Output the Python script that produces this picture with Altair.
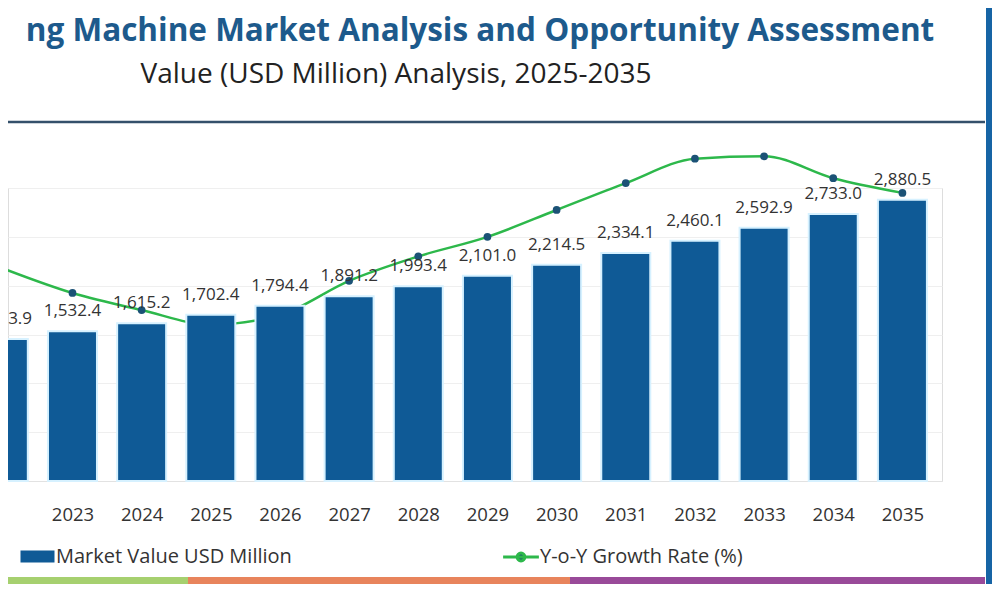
import altair as alt
import pandas as pd

years = [2022, 2023, 2024, 2025, 2026, 2027, 2028, 2029, 2030, 2031, 2032, 2033, 2034, 2035]
market_value = [1453.9, 1532.4, 1615.2, 1702.4, 1794.4, 1891.2, 1993.4, 2101.0,
                2214.5, 2334.1, 2460.1, 2592.9, 2733.0, 2880.5]
growth_rate = [5.47, 5.37, 5.30, 5.24, 5.28, 5.42, 5.52, 5.60, 5.71, 5.82, 5.92, 5.93, 5.84, 5.78]

bar_series = "Market Value USD Million"
line_series = "Y-o-Y Growth Rate (%)"
title_text = "ng Machine Market Analysis and Opportunity Assessment"
subtitle_text = "Value (USD Million) Analysis, 2025-2035"

FONT = "Open Sans"
BLUE = "#0f5a96"
GREEN = "#2db84b"
DOT = "#1b5276"

df = pd.DataFrame({
    "year": years,
    "value": market_value,
    "growth": growth_rate,
    "s1": [bar_series] * len(years),
    "s2": [line_series] * len(years),
})

x_enc = alt.X(
    "year:Q",
    scale=alt.Scale(domain=[2022.14, 2035.5], nice=False, zero=False),
    axis=alt.Axis(values=years, format="d", title=None, grid=False, ticks=False,
                  labelFlush=False, labelOverlap=False, labelFontSize=18.5,
                  labelFont=FONT, labelColor="#333333", labelPadding=24,
                  domainColor="#e2e2e2"),
)
y_scale = alt.Scale(domain=[0, 3000], nice=False)
g_scale = alt.Scale(domain=[4.6, 5.8], nice=False, zero=False)

base = alt.Chart(df)

line = base.mark_line(strokeWidth=2.5, interpolate="monotone").encode(
    x=x_enc,
    y=alt.Y("growth:Q", scale=g_scale, axis=None),
    stroke=alt.Stroke("s2:N", scale=alt.Scale(range=[GREEN]),
                      legend=alt.Legend(orient="none", legendX=500, legendY=356, title=None,
                                        symbolType="M-1.6,0H1.6M-0.35,0A0.35,0.35,0,1,1,0.35,0A0.35,0.35,0,1,1,-0.35,0",
                                        symbolSize=500, symbolStrokeWidth=3,
                                        symbolFillColor=DOT,
                                        labelFontSize=20, labelFont=FONT, labelColor="#333333",
                                        labelOffset=6, labelLimit=400)),
)

points = base.mark_point(filled=True, size=60, color=DOT, opacity=1).encode(
    x=x_enc,
    y=alt.Y("growth:Q", scale=g_scale, axis=None),
)

bars = base.mark_bar(size=49, stroke="#d6f1ff", strokeWidth=2).encode(
    x=x_enc,
    y=alt.Y("value:Q", scale=y_scale,
            axis=alt.Axis(title=None, labels=False, ticks=False, domain=False,
                          grid=True, gridColor="#efefef", values=[500, 1000, 1500, 2000, 2500, 3000])),
    color=alt.Color("s1:N", scale=alt.Scale(range=[BLUE]),
                    legend=alt.Legend(orient="none", legendX=17, legendY=356, title=None,
                                      symbolType="M-1.4,-0.5H1.4V0.5H-1.4Z", symbolSize=590,
                                      symbolStrokeWidth=0, labelFontSize=20, labelFont=FONT,
                                      labelColor="#333333", labelOffset=6, labelLimit=400)),
)

labels = base.mark_text(fontSize=17, font=FONT, color="#333333", baseline="middle", dy=-20).encode(
    x=x_enc,
    y=alt.Y("value:Q", scale=y_scale, axis=None),
    text=alt.Text("value:Q", format=",.1f"),
)

one = pd.DataFrame({"k": [0]})
deco = alt.Chart(one)

title_mark = alt.Chart(pd.DataFrame({"t": [title_text]})).mark_text(
    fontSize=31.5, font=FONT, fontWeight="bold", color="#1d5a8c", align="center", baseline="middle"
).encode(text="t:N", x=alt.value(472), y=alt.value(-156))

subtitle_mark = alt.Chart(pd.DataFrame({"t": [subtitle_text]})).mark_text(
    fontSize=28, font=FONT, color="#222222", align="center", baseline="middle"
).encode(text="t:N", x=alt.value(388), y=alt.value(-113))

header_rule = deco.mark_rule(color="#34506b", strokeWidth=2.5).encode(
    x=alt.value(0), x2=alt.value(977), y=alt.value(-66))

side_bar = deco.mark_rect(color="#1664a5").encode(
    x=alt.value(978), x2=alt.value(995), y=alt.value(-183), y2=alt.value(396))

strip_green = deco.mark_rect(color="#a6d06f").encode(
    x=alt.value(-8), x2=alt.value(180), y=alt.value(389), y2=alt.value(396))
strip_orange = deco.mark_rect(color="#e8845c").encode(
    x=alt.value(180), x2=alt.value(562), y=alt.value(389), y2=alt.value(396))
strip_purple = deco.mark_rect(color="#994a99").encode(
    x=alt.value(562), x2=alt.value(977), y=alt.value(389), y2=alt.value(396))

chart = alt.layer(
    line, points, bars, labels,
    title_mark, subtitle_mark, header_rule, side_bar,
    strip_green, strip_orange, strip_purple,
).resolve_scale(y="independent").properties(
    width=934, height=293,
    autosize=alt.AutoSizeParams(type="none"),
    padding={"left": 0, "top": 180, "right": 50, "bottom": 103},
).configure_view(stroke=None).configure(background="white")

chart.save("out.html", embed_options={"renderer": "svg", "actions": False})
